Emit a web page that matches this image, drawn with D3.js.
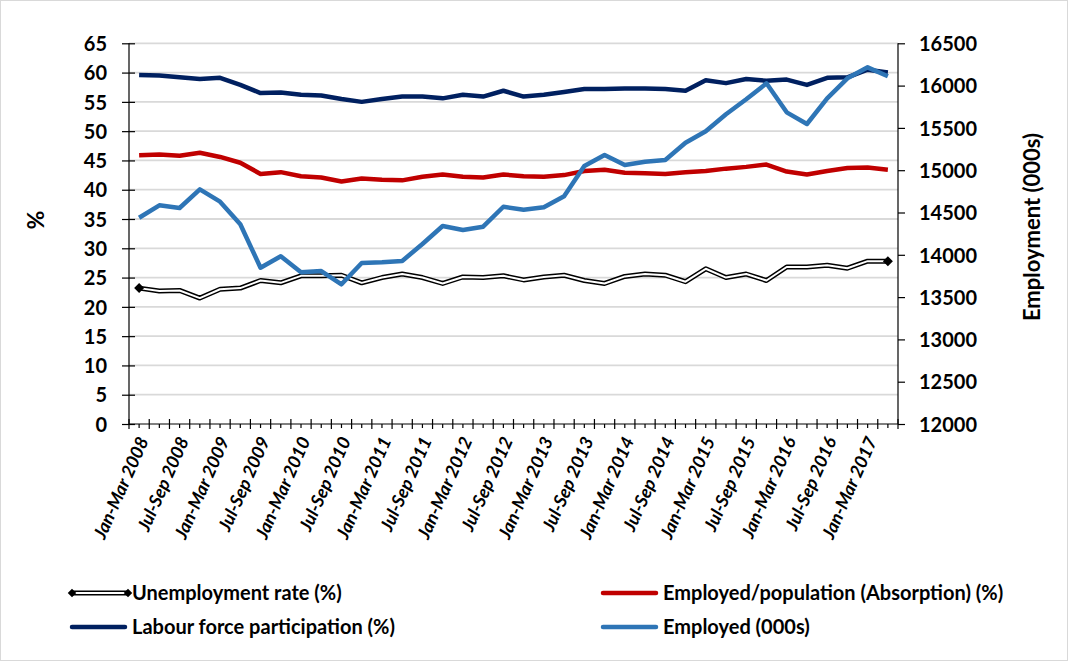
<!DOCTYPE html>
<html><head><meta charset="utf-8">
<script src="https://cdn.jsdelivr.net/npm/d3@7"></script>
<style>
html,body{margin:0;padding:0;background:#fff;}
svg text{font-family:Lato,"Open Sans",sans-serif;font-weight:700;fill:#000;}
</style></head>
<body>
<svg id="c" width="1068" height="661"></svg>
<script>
const quarters = ["Jan-Mar","Apr-Jun","Jul-Sep","Oct-Dec"];
const categories = [];
for (let y = 2008; y <= 2017; y++) for (const q of quarters) categories.push(q + " " + y);
categories.length = 38; // Jan-Mar 2008 .. Apr-Jun 2017

const unemployment = [23.2,22.7,22.8,21.5,23.0,23.2,24.5,24.1,25.3,25.3,25.4,24.1,25.0,25.6,25.0,24.0,25.1,25.0,25.3,24.6,25.1,25.4,24.5,24.0,25.2,25.6,25.4,24.3,26.5,25.0,25.6,24.5,26.8,26.8,27.1,26.6,27.8,27.8];
const absorption = [45.9,46.0,45.8,46.3,45.6,44.6,42.7,43.0,42.3,42.1,41.4,41.9,41.7,41.6,42.2,42.6,42.2,42.1,42.6,42.3,42.2,42.5,43.2,43.4,42.9,42.8,42.7,43.0,43.2,43.6,43.9,44.3,43.1,42.6,43.2,43.7,43.8,43.4];
const participation = [59.6,59.5,59.2,58.9,59.1,57.9,56.5,56.6,56.2,56.1,55.5,55.0,55.5,55.9,55.9,55.6,56.2,55.9,56.9,55.9,56.2,56.7,57.2,57.2,57.3,57.3,57.2,56.9,58.7,58.2,58.9,58.6,58.8,57.9,59.1,59.2,60.5,60.0];
const employed = [14438,14585,14553,14774,14628,14361,13847,13982,13793,13808,13651,13903,13911,13927,14128,14340,14293,14332,14568,14533,14561,14691,15050,15180,15061,15100,15120,15325,15460,15661,15838,16027,15684,15546,15850,16086,16216,16110];

const leftTicks = d3.range(0, 66, 5);
const rightTicks = d3.range(12000, 16501, 500);

const svg = d3.select("#c");
const L = 129, R = 898, T = 43.3, B = 424;

svg.append("rect").attr("x",0.5).attr("y",0.5).attr("width",1067).attr("height",660)
  .attr("fill","#fff").attr("stroke","#d9d9d9").attr("stroke-width",1);

const x = d3.scaleBand().domain(categories).range([L, R]).padding(0);
const xc = d => x(d) + x.bandwidth()/2;
const yL = d3.scaleLinear().domain([0,65]).range([B, T]);
const yR = d3.scaleLinear().domain([12000,16500]).range([B, T]);

// gridlines
svg.append("g").selectAll("line").data(leftTicks.filter(d=>d>0)).join("line")
  .attr("x1",L).attr("x2",R).attr("y1",d=>yL(d)).attr("y2",d=>yL(d))
  .attr("stroke","#d9d9d9").attr("stroke-width",1.8);

// left axis
const gL = svg.append("g").attr("transform",`translate(${L},0)`)
  .call(d3.axisLeft(yL).tickValues(leftTicks).tickSize(7).tickPadding(15));
gL.selectAll(".tick line").attr("x2",-7).attr("x1",6).attr("stroke","#000").attr("stroke-width",1.2);
gL.select(".domain").attr("stroke","#000").attr("stroke-width",1.2).attr("d",`M0,${T}V${B}`);
gL.selectAll("text").style("font-size","20px").attr("dy","0.36em");

// right axis
const gR = svg.append("g").attr("transform",`translate(${R},0)`)
  .call(d3.axisRight(yR).tickValues(rightTicks).tickFormat(d3.format("d")).tickSize(7).tickPadding(14));
gR.selectAll(".tick line").attr("stroke","#000").attr("stroke-width",1.2);
gR.select(".domain").attr("stroke","#000").attr("stroke-width",1.2).attr("d",`M0,${T}V${B}`);
gR.selectAll("text").style("font-size","20px").attr("dy","0.36em");

// x axis
const gX = svg.append("g").attr("transform",`translate(0,${B})`);
gX.append("line").attr("x1",L).attr("x2",R).attr("stroke","#000").attr("stroke-width",1.2);
const bounds = categories.map(c=>x(c)).concat([R]);
gX.selectAll("line.maj").data(bounds).join("line").attr("class","maj")
  .attr("x1",d=>d).attr("x2",d=>d).attr("y1",-5).attr("y2",5).attr("stroke","#000").attr("stroke-width",1.2);
gX.selectAll("line.min").data(categories).join("line").attr("class","min")
  .attr("x1",d=>xc(d)).attr("x2",d=>xc(d)).attr("y1",0).attr("y2",4).attr("stroke","#000").attr("stroke-width",1.2);
gX.selectAll("text").data(categories.filter((d,i)=>i%2===0)).join("text")
  .attr("transform",d=>`translate(${xc(d)+4},${14}) rotate(-66)`)
  .attr("text-anchor","end").attr("dy","0.35em")
  .style("font-size","18px").style("font-style","italic").text(d=>d);

// axis titles
svg.append("text").attr("transform","translate(44,220) rotate(-90)").attr("text-anchor","middle")
  .style("font-size","23px").text("%");
svg.append("text").attr("transform","translate(1040,227) rotate(-90)").attr("text-anchor","middle")
  .style("font-size","22px").text("Employment (000s)");

// lines
const lineL = d3.line().x((d,i)=>xc(categories[i])).y(d=>yL(d));
const lineR = d3.line().x((d,i)=>xc(categories[i])).y(d=>yR(d));

const plot = svg.append("g").attr("fill","none").attr("stroke-linejoin","round");
plot.append("path").datum(unemployment).attr("d",lineL).attr("stroke","#000").attr("stroke-width",5);
plot.append("path").datum(unemployment).attr("d",lineL).attr("stroke","#fff").attr("stroke-width",2);
const diamond = d3.symbol().type(d3.symbolSquare).size(50);
[0, unemployment.length-1].forEach(i=>{
  svg.append("path").attr("d",diamond).attr("fill","#000")
    .attr("transform",`translate(${xc(categories[i])},${yL(unemployment[i])}) rotate(45)`);
});
plot.append("path").datum(absorption).attr("d",lineL).attr("stroke","#C00000").attr("stroke-width",4.5);
plot.append("path").datum(participation).attr("d",lineL).attr("stroke","#002060").attr("stroke-width",4.5);
plot.append("path").datum(employed).attr("d",lineR).attr("stroke","#2E75B6").attr("stroke-width",4.5);

// legend
const legend = [
  {name:"Unemployment rate (%)", color:"#000", type:"double", x:72, y:593},
  {name:"Employed/population (Absorption) (%)", color:"#C00000", type:"line", x:603, y:593},
  {name:"Labour force participation (%)", color:"#002060", type:"line", x:72, y:627},
  {name:"Employed (000s)", color:"#2E75B6", type:"line", x:603, y:627}
];
const lg = svg.append("g");
legend.forEach(d=>{
  const g = lg.append("g").attr("transform",`translate(${d.x},${d.y})`);
  if (d.type==="double") {
    g.append("line").attr("x1",0).attr("x2",56).attr("stroke","#000").attr("stroke-width",5);
    g.append("line").attr("x1",0).attr("x2",56).attr("stroke","#fff").attr("stroke-width",2);
    const sd = d3.symbol().type(d3.symbolSquare).size(36);
    g.append("path").attr("d",sd).attr("transform","translate(0,0) rotate(45)");
    g.append("path").attr("d",sd).attr("transform","translate(56,0) rotate(45)");
  } else {
    g.append("line").attr("x1",0).attr("x2",53).attr("stroke",d.color).attr("stroke-width",4.5).attr("stroke-linecap","round");
  }
  g.append("text").attr("x",60).attr("dy","0.36em").style("font-size","20px").text(d.name);
});
</script>
</body></html>
